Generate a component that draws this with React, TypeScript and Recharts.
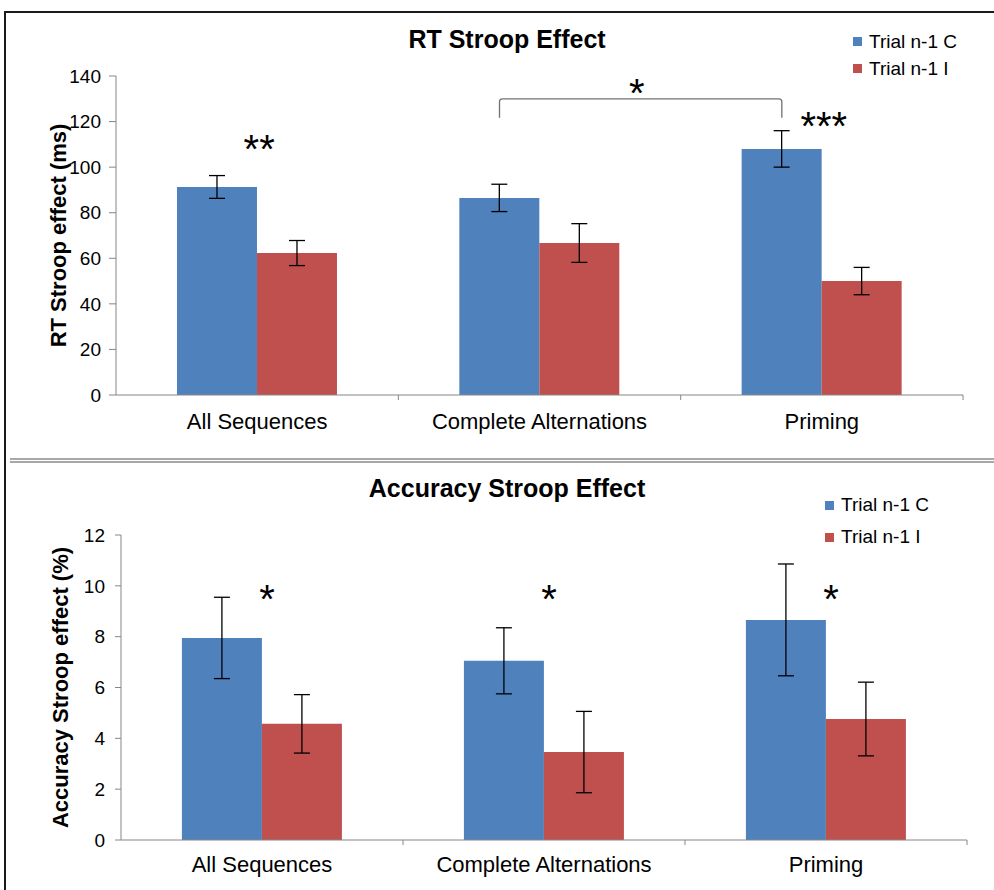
import React from "react";
import {
  Bar,
  BarChart,
  ErrorBar,
  ReferenceDot,
  ReferenceLine,
  XAxis,
  YAxis,
} from "recharts";

const CATEGORIES = ["All Sequences", "Complete Alternations", "Priming"];
const SERIES = ["Trial n-1 C", "Trial n-1 I"];

const RT_PREV_C = [91.3, 86.5, 108];
const RT_PREV_C_ERR = [5, 6, 8];
const RT_PREV_I = [62.3, 66.7, 50];
const RT_PREV_I_ERR = [5.5, 8.5, 6];
const RT_STARS = ["**", "", "***"];
const RT_TICKS = [0, 20, 40, 60, 80, 100, 120, 140];

const ACC_PREV_C = [7.95, 7.05, 8.66];
const ACC_PREV_C_ERR = [1.6, 1.3, 2.2];
const ACC_PREV_I = [4.57, 3.46, 4.76];
const ACC_PREV_I_ERR = [1.15, 1.6, 1.45];
const ACC_STARS = ["*", "*", "*"];
const ACC_TICKS = [0, 2, 4, 6, 8, 10, 12];

const BLUE = "#4F81BD";
const RED = "#C0504D";
const AXIS = "#868686";
const FONT = "'Liberation Sans', Arial, sans-serif";

const rtData = CATEGORIES.map((name, i) => ({
  name,
  c: RT_PREV_C[i],
  cErr: RT_PREV_C_ERR[i],
  i: RT_PREV_I[i],
  iErr: RT_PREV_I_ERR[i],
}));

const accData = CATEGORIES.map((name, i) => ({
  name,
  c: ACC_PREV_C[i],
  cErr: ACC_PREV_C_ERR[i],
  i: ACC_PREV_I[i],
  iErr: ACC_PREV_I_ERR[i],
}));

// Excel-style category axis: label in the middle, tick mark on the band edge
function CategoryTick(props: any) {
  const { x, y, payload, half, gap } = props;
  return (
    <g>
      <line x1={x + half} y1={y} x2={x + half} y2={y + 5} stroke={AXIS} />
      <text
        x={x}
        y={y + gap}
        dy="0.355em"
        textAnchor="middle"
        fontSize={22}
        fontFamily={FONT}
        fill="#000"
      >
        {payload.value}
      </text>
    </g>
  );
}

function YTitle({ viewBox, value, x }: any) {
  const cy = viewBox.y + viewBox.height / 2;
  return (
    <text
      x={x}
      y={cy}
      dy="0.355em"
      transform={`rotate(-90, ${x}, ${cy})`}
      textAnchor="middle"
      fontSize={22}
      fontWeight="bold"
      fontFamily={FONT}
      fill="#000"
    >
      {value}
    </text>
  );
}

function Stars({ cx, cy, text, size = 40, dx = 0 }: any) {
  if (!text) return null;
  return (
    <text
      x={cx + dx}
      y={cy + size * 0.57}
      textAnchor="middle"
      fontSize={size}
      fontFamily={FONT}
      fill="#000"
    >
      {text}
    </text>
  );
}

function Bracket({ x1, x2, y1 }: any) {
  const shift = 40;
  const a = x1 - shift;
  const b = x2 - shift;
  return (
    <g>
      <path
        d={`M${a},${y1 + 19} L${a},${y1 + 3} Q${a},${y1} ${a + 3},${y1} L${b - 3},${y1} Q${b},${y1} ${b},${y1 + 3} L${b},${y1 + 19}`}
        fill="none"
        stroke="#707070"
        strokeWidth={1.3}
      />
      <text
        x={(a + b) / 2 - 4}
        y={y1 - 15 + 40 * 0.57}
        textAnchor="middle"
        fontSize={40}
        fontFamily={FONT}
        fill="#000"
      >
        *
      </text>
    </g>
  );
}

function LegendBox({ left, top, rowHeight }: any) {
  const colors = [BLUE, RED];
  return (
    <div
      style={{
        position: "absolute",
        left,
        top,
        fontFamily: FONT,
        fontSize: 19,
        color: "#000",
      }}
    >
      {SERIES.map((name, i) => (
        <div
          key={name}
          style={{
            height: rowHeight,
            display: "flex",
            alignItems: "center",
            whiteSpace: "nowrap",
          }}
        >
          <span
            style={{
              width: 9,
              height: 9,
              background: colors[i],
              marginRight: 7,
              display: "inline-block",
            }}
          />
          {name}
        </div>
      ))}
    </div>
  );
}

const titleStyle: React.CSSProperties = {
  position: "absolute",
  left: 507,
  transform: "translateX(-50%)",
  fontFamily: FONT,
  fontWeight: "bold",
  fontSize: 25,
  lineHeight: "25px",
  whiteSpace: "nowrap",
  color: "#000",
};

export default function App() {
  return (
    <div
      style={{
        position: "absolute",
        left: 0,
        top: 0,
        width: 994,
        height: 890,
        background: "#fff",
        overflow: "hidden",
      }}
    >
      <div
        style={{
          position: "absolute",
          left: 4,
          top: 11,
          width: 992,
          height: 890,
          borderTop: "2px solid #1a1a1a",
          borderLeft: "2px solid #1a1a1a",
        }}
      />
      <div
        style={{
          position: "absolute",
          left: 10,
          top: 458,
          width: 984,
          height: 1,
          borderTop: "2px solid #a8a8a8",
          borderBottom: "2px solid #a8a8a8",
        }}
      />

      <div style={{ ...titleStyle, top: 27 }}>RT Stroop Effect</div>
      <LegendBox left={853} top={28} rowHeight={27} />
      <div style={{ position: "absolute", left: 0, top: 0 }}>
        <BarChart
          width={994}
          height={460}
          data={rtData}
          margin={{ top: 76, right: 31, bottom: 25, left: 0 }}
          barCategoryGap="21.6%"
          barGap={0}
        >
          <XAxis
            dataKey="name"
            height={40}
            tickSize={0}
            tickMargin={0}
            tickLine={false}
            axisLine={{ stroke: AXIS }}
            tick={<CategoryTick half={141.2} gap={26} />}
          />
          <YAxis
            width={116}
            domain={[0, 140]}
            ticks={RT_TICKS}
            tickSize={7}
            tickMargin={8}
            axisLine={{ stroke: AXIS }}
            tickLine={{ stroke: AXIS }}
            tick={{ fontSize: 19, fill: "#000", fontFamily: FONT }}
            label={<YTitle value="RT Stroop effect (ms)" x={51} />}
          />
          <Bar dataKey="c" name={SERIES[0]} fill={BLUE} isAnimationActive={false}>
            <ErrorBar dataKey="cErr" width={8} stroke="#000" strokeWidth={1.3} />
          </Bar>
          <Bar dataKey="i" name={SERIES[1]} fill={RED} isAnimationActive={false}>
            <ErrorBar dataKey="iErr" width={8} stroke="#000" strokeWidth={1.3} />
          </Bar>
          <ReferenceLine
            segment={[
              { x: CATEGORIES[1], y: 130 },
              { x: CATEGORIES[2], y: 130 },
            ]}
            shape={<Bracket />}
          />
          {CATEGORIES.map((cat, i) => (
            <ReferenceDot
              key={cat}
              x={cat}
              y={i === 0 ? 112 : 122}
              shape={<Stars text={RT_STARS[i]} dx={2} />}
            />
          ))}
        </BarChart>
      </div>

      <div style={{ ...titleStyle, top: 476 }}>Accuracy Stroop Effect</div>
      <LegendBox left={825} top={489} rowHeight={32} />
      <div style={{ position: "absolute", left: 0, top: 465 }}>
        <BarChart
          width={994}
          height={425}
          data={accData}
          margin={{ top: 70, right: 27, bottom: 10, left: 0 }}
          barCategoryGap="21.6%"
          barGap={0}
        >
          <XAxis
            dataKey="name"
            height={40}
            tickSize={0}
            tickMargin={0}
            tickLine={false}
            axisLine={{ stroke: AXIS }}
            tick={<CategoryTick half={141} gap={24} />}
          />
          <YAxis
            width={121}
            domain={[0, 12]}
            ticks={ACC_TICKS}
            tickSize={6}
            tickMargin={10}
            axisLine={{ stroke: AXIS }}
            tickLine={{ stroke: AXIS }}
            tick={{ fontSize: 19, fill: "#000", fontFamily: FONT }}
            label={<YTitle value="Accuracy Stroop effect (%)" x={62} />}
          />
          <Bar dataKey="c" name={SERIES[0]} fill={BLUE} isAnimationActive={false}>
            <ErrorBar dataKey="cErr" width={8} stroke="#000" strokeWidth={1.3} />
          </Bar>
          <Bar dataKey="i" name={SERIES[1]} fill={RED} isAnimationActive={false}>
            <ErrorBar dataKey="iErr" width={8} stroke="#000" strokeWidth={1.3} />
          </Bar>
          {CATEGORIES.map((cat, i) => (
            <ReferenceDot
              key={cat}
              x={cat}
              y={9.84}
              shape={<Stars text={ACC_STARS[i]} dx={5} />}
            />
          ))}
        </BarChart>
      </div>
    </div>
  );
}
